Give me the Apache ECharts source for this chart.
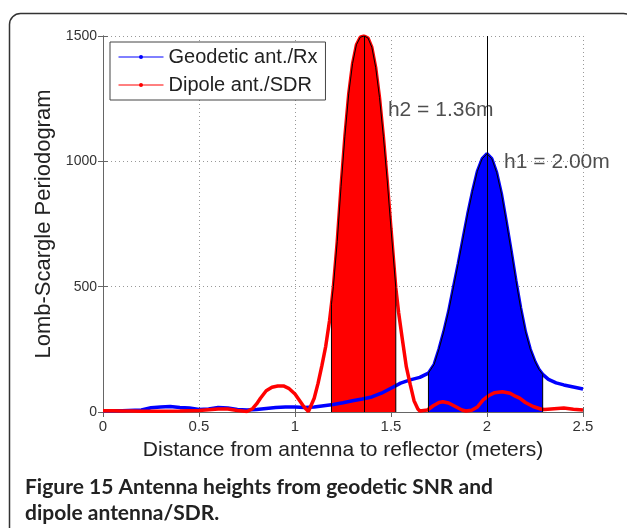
<!DOCTYPE html>
<html>
<head>
<meta charset="utf-8">
<script src="https://cdn.jsdelivr.net/npm/echarts@6/dist/echarts.min.js"></script>
<style>
html, body { margin: 0; padding: 0; background: #fff; }
#main { width: 627px; height: 528px; }
</style>
</head>
<body>
<div id="main"></div>
<script>
// Geodetic ant./Rx (blue)
var blueX = [0, 0.1, 0.2, 0.25, 0.3, 0.35, 0.4, 0.45, 0.5, 0.55, 0.6, 0.65, 0.7, 0.75, 0.8, 0.85, 0.9, 0.95,
  1.0, 1.05, 1.1, 1.15, 1.2, 1.25, 1.3, 1.35, 1.4, 1.45, 1.5, 1.55, 1.6, 1.65, 1.695, 1.725, 1.75, 1.775,
  1.8, 1.825, 1.85, 1.875, 1.9, 1.925, 1.95, 1.975, 2.0, 2.025, 2.05, 2.075, 2.1, 2.125, 2.15, 2.175,
  2.2, 2.225, 2.25, 2.27, 2.29, 2.32, 2.36, 2.4, 2.45, 2.5];
var blueY = [5, 5, 8, 17, 20, 22, 18, 16, 10, 12, 18, 16, 10, 8, 10, 14, 18, 20,
  20, 18, 20, 25, 30, 37, 45, 52, 60, 75, 95, 115, 128, 138, 155, 190, 250, 320,
  400, 495, 590, 690, 790, 880, 960, 1010, 1030, 1010, 955, 870, 760, 645, 525, 415,
  320, 250, 200, 170, 150, 130, 116, 108, 100, 92];

// Dipole ant./SDR (red)
var redX = [0, 0.05, 0.1, 0.15, 0.2, 0.3, 0.4, 0.45, 0.5, 0.55, 0.6, 0.65, 0.7, 0.75, 0.78, 0.8, 0.82, 0.85,
  0.88, 0.91, 0.94, 0.97, 1.0, 1.02, 1.04, 1.05, 1.07, 1.08, 1.1, 1.12, 1.14, 1.16, 1.18, 1.19, 1.2, 1.22,
  1.24, 1.26, 1.28, 1.3, 1.32, 1.34, 1.36, 1.38, 1.4, 1.42, 1.44, 1.46, 1.48, 1.5, 1.525, 1.54, 1.56,
  1.58, 1.6, 1.62, 1.64, 1.65, 1.69, 1.72, 1.75, 1.77, 1.8, 1.84, 1.87, 1.89, 1.92, 1.95, 1.98, 2.01,
  2.04, 2.08, 2.12, 2.15, 2.17, 2.2, 2.24, 2.28, 2.3, 2.35, 2.4, 2.45, 2.5];
var redY = [5, 5, 4, 4, 3, 3, 4, 5, 6, 9, 12, 12, 6, 2, 14, 32, 55, 85,
  99, 104, 104, 93, 72, 50, 28, 18, 2, 8, 55, 114, 185, 262, 365, 430, 500, 680,
  900, 1100, 1270, 1390, 1465, 1495, 1500, 1492, 1455, 1375, 1255, 1100, 925, 730, 495, 395, 285,
  180, 110, 45, 12, 4, 8, 25, 38, 41, 36, 20, 8, 4, 7, 20, 48, 66,
  77, 81, 75, 62, 55, 38, 22, 12, 10, 13, 16, 11, 8];

var seriesNames = ['Geodetic ant./Rx', 'Dipole ant./SDR'];
var seriesColors = ['#0000ff', '#ff0000'];
var blueFill = [1.695, 2.29];
var redFill = [1.19, 1.525];
var heightX = [1.36, 2.0];
var heightText = ['h2 = 1.36m', 'h1 = 2.00m'];
var heightTextAt = [[1.484, 1205], [2.089, 997]];

function pairs(xs, ys) {
  return xs.map(function (x, i) { return [x, ys[i]]; });
}
// area between the curve and zero, closed by vertical edges
function fillPart(xs, ys, range) {
  var pts = [[range[0], 0]];
  xs.forEach(function (x, i) {
    if (x >= range[0] && x <= range[1]) pts.push([x, ys[i]]);
  });
  pts.push([range[1], 0]);
  return pts;
}

var chart = echarts.init(document.getElementById('main'));
var txt = '#222';
var boxColor = '#666';

chart.setOption({
  animation: false,
  textStyle: { fontFamily: 'Liberation Sans, Arial, sans-serif' },
  grid: { left: 103, right: 44, top: 36, bottom: 116 },
  legend: {
    data: seriesNames,
    orient: 'vertical',
    left: 110,
    top: 42,
    padding: [5, 8, 5, 8],
    itemGap: 8,
    itemWidth: 45,
    itemHeight: 5,
    borderColor: '#444',
    borderWidth: 1,
    backgroundColor: '#fff',
    lineStyle: { width: 1 },
    textStyle: { fontSize: 20, color: txt }
  },
  xAxis: [
    {
      type: 'value', min: 0, max: 2.5, interval: 0.5, position: 'bottom',
      name: 'Distance from antenna to reflector (meters)',
      nameLocation: 'middle', nameGap: 28,
      nameTextStyle: { fontSize: 21, color: txt },
      axisLine: { lineStyle: { color: boxColor, width: 1 } },
      axisTick: { inside: true, length: 5, lineStyle: { color: boxColor } },
      axisLabel: { fontSize: 15, color: '#333', margin: 7 },
      splitLine: { show: true, lineStyle: { color: '#999', type: [1, 3] } }
    },
    {
      type: 'value', min: 0, max: 2.5, interval: 0.5, position: 'top',
      axisLine: { lineStyle: { color: boxColor, width: 1 } },
      axisTick: { inside: true, length: 5, lineStyle: { color: boxColor } },
      axisLabel: { show: false },
      splitLine: { show: false }
    }
  ],
  yAxis: [
    {
      type: 'value', min: 0, max: 1500, interval: 500, position: 'left',
      name: 'Lomb-Scargle Periodogram',
      nameLocation: 'middle', nameGap: 42,
      nameTextStyle: { fontSize: 22, color: txt },
      axisLine: { show: true, lineStyle: { color: boxColor, width: 1 } },
      axisTick: { show: true, inside: true, length: 5, lineStyle: { color: boxColor } },
      axisLabel: { fontSize: 14, color: '#333', margin: 6, formatter: function (v) { return String(v); } },
      splitLine: { show: true, lineStyle: { color: '#999', type: [1, 3] } }
    },
    {
      type: 'value', min: 0, max: 1500, interval: 500, position: 'right',
      axisLine: { show: true, lineStyle: { color: boxColor, width: 1 } },
      axisTick: { show: true, inside: true, length: 5, lineStyle: { color: boxColor } },
      axisLabel: { show: false },
      splitLine: { show: false }
    }
  ],
  series: [
    {
      name: 'redFill', type: 'line', data: fillPart(redX, redY, redFill),
      symbol: 'none', lineStyle: { width: 0 },
      areaStyle: { color: '#ff0000', opacity: 1 }, z: 2, silent: true
    },
    {
      name: 'blueFill', type: 'line', data: fillPart(blueX, blueY, blueFill),
      symbol: 'none', lineStyle: { width: 0 },
      areaStyle: { color: '#0000ff', opacity: 1 }, z: 2, silent: true
    },
    {
      name: seriesNames[0], type: 'line', data: pairs(blueX, blueY),
      symbol: 'circle', showSymbol: false, color: seriesColors[0],
      lineStyle: { color: seriesColors[0], width: 3.5 }, z: 3
    },
    {
      name: seriesNames[1], type: 'line', data: pairs(redX, redY),
      symbol: 'circle', showSymbol: false, color: seriesColors[1],
      lineStyle: { color: seriesColors[1], width: 3.5 }, z: 3
    },
    {
      name: 'redEdge', type: 'line', data: fillPart(redX, redY, redFill),
      symbol: 'none', lineStyle: { color: '#000', width: 1 }, z: 4, silent: true
    },
    {
      name: 'blueEdge', type: 'line', data: fillPart(blueX, blueY, blueFill),
      symbol: 'none', lineStyle: { color: '#000', width: 1 }, z: 4, silent: true,
      markLine: {
        silent: true, symbol: ['none', 'none'],
        label: { show: false },
        lineStyle: { color: '#000', width: 1, type: 'solid' },
        data: heightX.map(function (x) { return { xAxis: x }; })
      }
    },
    {
      name: 'notes', type: 'scatter', symbolSize: 0, z: 5, silent: true,
      data: heightTextAt,
      label: {
        show: true, position: 'right', distance: 0,
        fontSize: 21, color: txt,
        formatter: function (p) { return heightText[p.dataIndex]; }
      }
    }
  ],
  graphic: [
    {
      type: 'rect', silent: true,
      shape: { x: 9.5, y: 13.5, width: 625, height: 560, r: 11 },
      style: { fill: 'none', stroke: '#333', lineWidth: 1.5 }
    },
    {
      type: 'text', left: 25, top: 474, silent: true,
      style: {
        text: 'Figure 15 Antenna heights from geodetic SNR and\ndipole antenna/SDR.',
        font: 'bold 21px Lato, sans-serif',
        fill: '#222',
        lineHeight: 26
      }
    }
  ]
});
</script>
</body>
</html>
